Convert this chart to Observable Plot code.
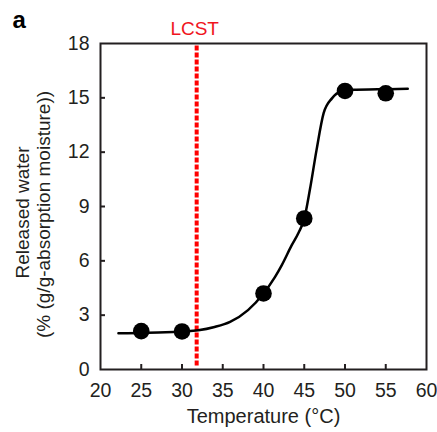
<!DOCTYPE html>
<html><head><meta charset="utf-8">
<script src="https://cdn.jsdelivr.net/npm/d3@7"></script>
<script src="https://cdn.jsdelivr.net/npm/@observablehq/plot@0.6"></script>
<style>body{margin:0;background:#fff;}</style>
</head><body><div id="chart"></div>
<script>
// Measured points
const pointTemp  = [25, 30, 40, 45, 50, 55];
const pointWater = [2.12, 2.1, 4.2, 8.34, 15.38, 15.25];
// Fitted curve
const fitTemp  = [22.2, 25, 28, 30, 32, 34, 35.9, 38.1, 40, 41.4, 42.23, 43.45, 44.3, 45, 45.7, 46.5, 47.37, 48.4, 49.5, 51, 54, 57.7];
const fitWater = [2.0, 2.02, 2.05, 2.1, 2.17, 2.35, 2.63, 3.28, 4.2, 5.1, 5.75, 6.85, 7.55, 8.32, 9.95, 12.1, 14.14, 14.97, 15.35, 15.45, 15.47, 15.5];
const lcstTemp = 31.8;
const xTicks = [20, 25, 30, 35, 40, 45, 50, 55, 60];
const yTicks = [0, 3, 6, 9, 12, 15, 18];
const panelLabel = "a";
const lcstLabel = "LCST";
const xLabel = "Temperature (°C)";
const yLabel1 = "Released water";
const yLabel2 = "(% (g/g-absorption moisture))";

const points = pointTemp.map((t, i) => ({t, w: pointWater[i]}));
const fit = fitTemp.map((t, i) => ({t, w: fitWater[i]}));

const W = 437, H = 432, mL = 100, mR = 11, mT = 43, mB = 63;
const plotW = W - mL - mR, plotH = H - mT - mB;
const ink = "#231f20";
const font = "'Liberation Sans', Arial, sans-serif";

const chart = Plot.plot({
  width: W, height: H,
  marginLeft: mL, marginRight: mR, marginTop: mT, marginBottom: mB,
  style: {fontFamily: font, fontSize: "19px", color: ink, background: "#fff", overflow: "visible"},
  x: {domain: [20, 60], ticks: xTicks},
  y: {domain: [0, 18], ticks: yTicks},
  marks: [
    Plot.axisX({ticks: xTicks, tickSize: 0, tickPadding: 14, label: null, fontSize: 19.5, fill: ink}),
    Plot.axisY({ticks: yTicks, tickSize: 0, tickPadding: 11, label: null, fontSize: 19.5, fill: ink}),
    Plot.tickX(xTicks.slice(1, -1), {x: d => d, insetTop: plotH - 5, stroke: ink, strokeWidth: 2}),
    Plot.tickY(yTicks.slice(1, -1), {y: d => d, insetRight: plotW - 5, stroke: ink, strokeWidth: 2}),
    Plot.ruleX([lcstTemp], {x: d => d, y1: 0.2, y2: 18, stroke: "#ff0000", strokeWidth: 4, strokeDasharray: "5,2"}),
    Plot.line(fit, {x: "t", y: "w", curve: "monotone-x", stroke: "#000", strokeWidth: 2.5}),
    Plot.dot(points, {x: "t", y: "w", r: 8.3, fill: "#000", stroke: "none"}),
    Plot.frame({stroke: ink, strokeWidth: 2}),
    Plot.text([lcstLabel], {x: lcstTemp, y: 18, text: d => d, dx: -2, dy: -15, fill: "#f0141e", fontSize: 19, textAnchor: "middle", lineAnchor: "middle"}),
    Plot.text([panelLabel], {frameAnchor: "top-left", text: d => d, dx: -88, dy: -23, fontSize: 24, fontWeight: "bold", fill: "#000", textAnchor: "start", lineAnchor: "middle"}),
    Plot.text([xLabel], {frameAnchor: "bottom", text: d => d, dy: 47, fontSize: 20, fill: ink, textAnchor: "middle", lineAnchor: "middle"}),
    Plot.text([yLabel1], {frameAnchor: "left", text: d => d, rotate: -90, dx: -78, dy: 6, fontSize: 19, fill: ink, textAnchor: "middle", lineAnchor: "middle"}),
    Plot.text([yLabel2], {frameAnchor: "left", text: d => d, rotate: -90, dx: -57, dy: 8, fontSize: 19, fill: ink, textAnchor: "middle", lineAnchor: "middle"})
  ]
});
document.getElementById("chart").appendChild(chart);
</script>
</body></html>
